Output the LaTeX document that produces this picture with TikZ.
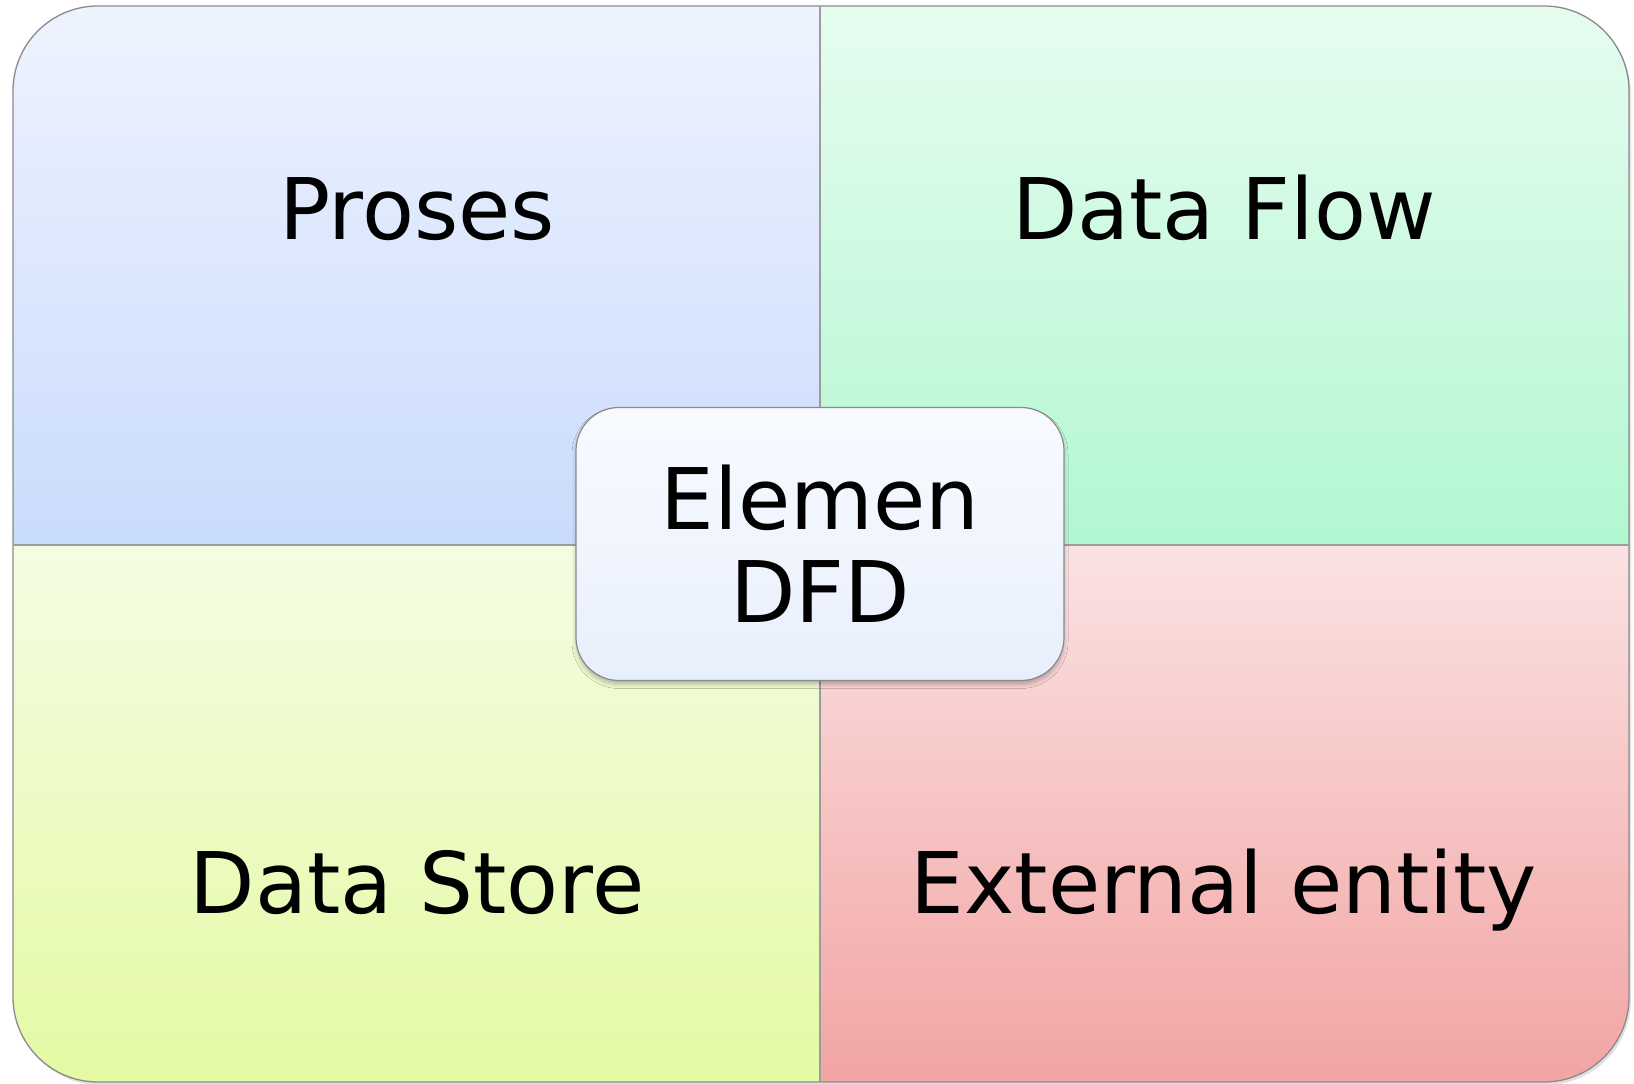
\documentclass[tikz,border=0pt]{standalone}
\usepackage{fontspec}
\setmainfont{DejaVu Sans}
\usetikzlibrary{shadows.blur}

\definecolor{tlTop}{HTML}{EEF3FE}
\definecolor{tlBot}{HTML}{C9DBFC}
\definecolor{trTop}{HTML}{E6FCEF}
\definecolor{trBot}{HTML}{B2F7D1}
\definecolor{blTop}{HTML}{F4FCE3}
\definecolor{blBot}{HTML}{E4FAA3}
\definecolor{brTop}{HTML}{FBE2E2}
\definecolor{brBot}{HTML}{F2A4A4}
\definecolor{ctTop}{HTML}{F8FAFF}
\definecolor{ctBot}{HTML}{E8EFFC}
\definecolor{edge}{HTML}{8A8A8A}

\tikzset{
  quadlabel/.style={font=\fontsize{85}{93}\selectfont, text=black, anchor=base, inner sep=0pt},
  centerbox/.style={draw=edge, line width=1.2pt, rounded corners=43pt,
    top color=ctTop, bottom color=ctBot,
    minimum width=488pt, minimum height=273pt, inner sep=0pt,
    align=center, font=\fontsize{85}{93}\selectfont,
    blur shadow={shadow xshift=0pt, shadow yshift=-4pt, shadow blur radius=4pt, shadow opacity=25}},
  divider/.style={draw=edge!85, line width=1.2pt}
}

\begin{document}
\begin{tikzpicture}[x=1pt,y=1pt]
  \useasboundingbox (0,0) rectangle (1634,1084);
  \fill[white] (0,0) rectangle (1634,1084);

  % soft shadow under the outer frame
  \fill[black, opacity=0.12, rounded corners=85pt] (15,-1) rectangle (1631,1075);

  % four coloured quarters, clipped to the rounded frame
  \begin{scope}
    \clip[rounded corners=85pt] (13,2) rectangle (1629,1078);
    \shade[top color=tlTop, bottom color=tlBot] (13,539) rectangle (820,1078);
    \shade[top color=trTop, bottom color=trBot] (820,539) rectangle (1629,1078);
    \shade[top color=blTop, bottom color=blBot] (13,2) rectangle (820,539);
    \shade[top color=brTop, bottom color=brBot] (820,2) rectangle (1629,539);
  \end{scope}
  \draw[edge, line width=1.3pt, rounded corners=85pt] (13,2) rectangle (1629,1078);

  % quarter dividers
  \coordinate (dTop) at (820,1078);
  \coordinate (dBot) at (820,2);
  \coordinate (dLeft) at (13,539);
  \coordinate (dRight) at (1629,539);
  \draw[divider] (dTop) -- (dBot);
  \draw[divider] (dLeft) -- (dRight);

  % quarter titles
  \node[quadlabel] (proses) at (417,844) {Proses};
  \node[quadlabel] (flow) at (1224,844) {Data Flow};
  \node[quadlabel] (store) at (417,170) {Data Store};
  \node[quadlabel] (entity) at (1224,170) {External entity};

  % central element box
  \node[centerbox] (core) at (820,540) {Elemen\\DFD};
\end{tikzpicture}
\end{document}
